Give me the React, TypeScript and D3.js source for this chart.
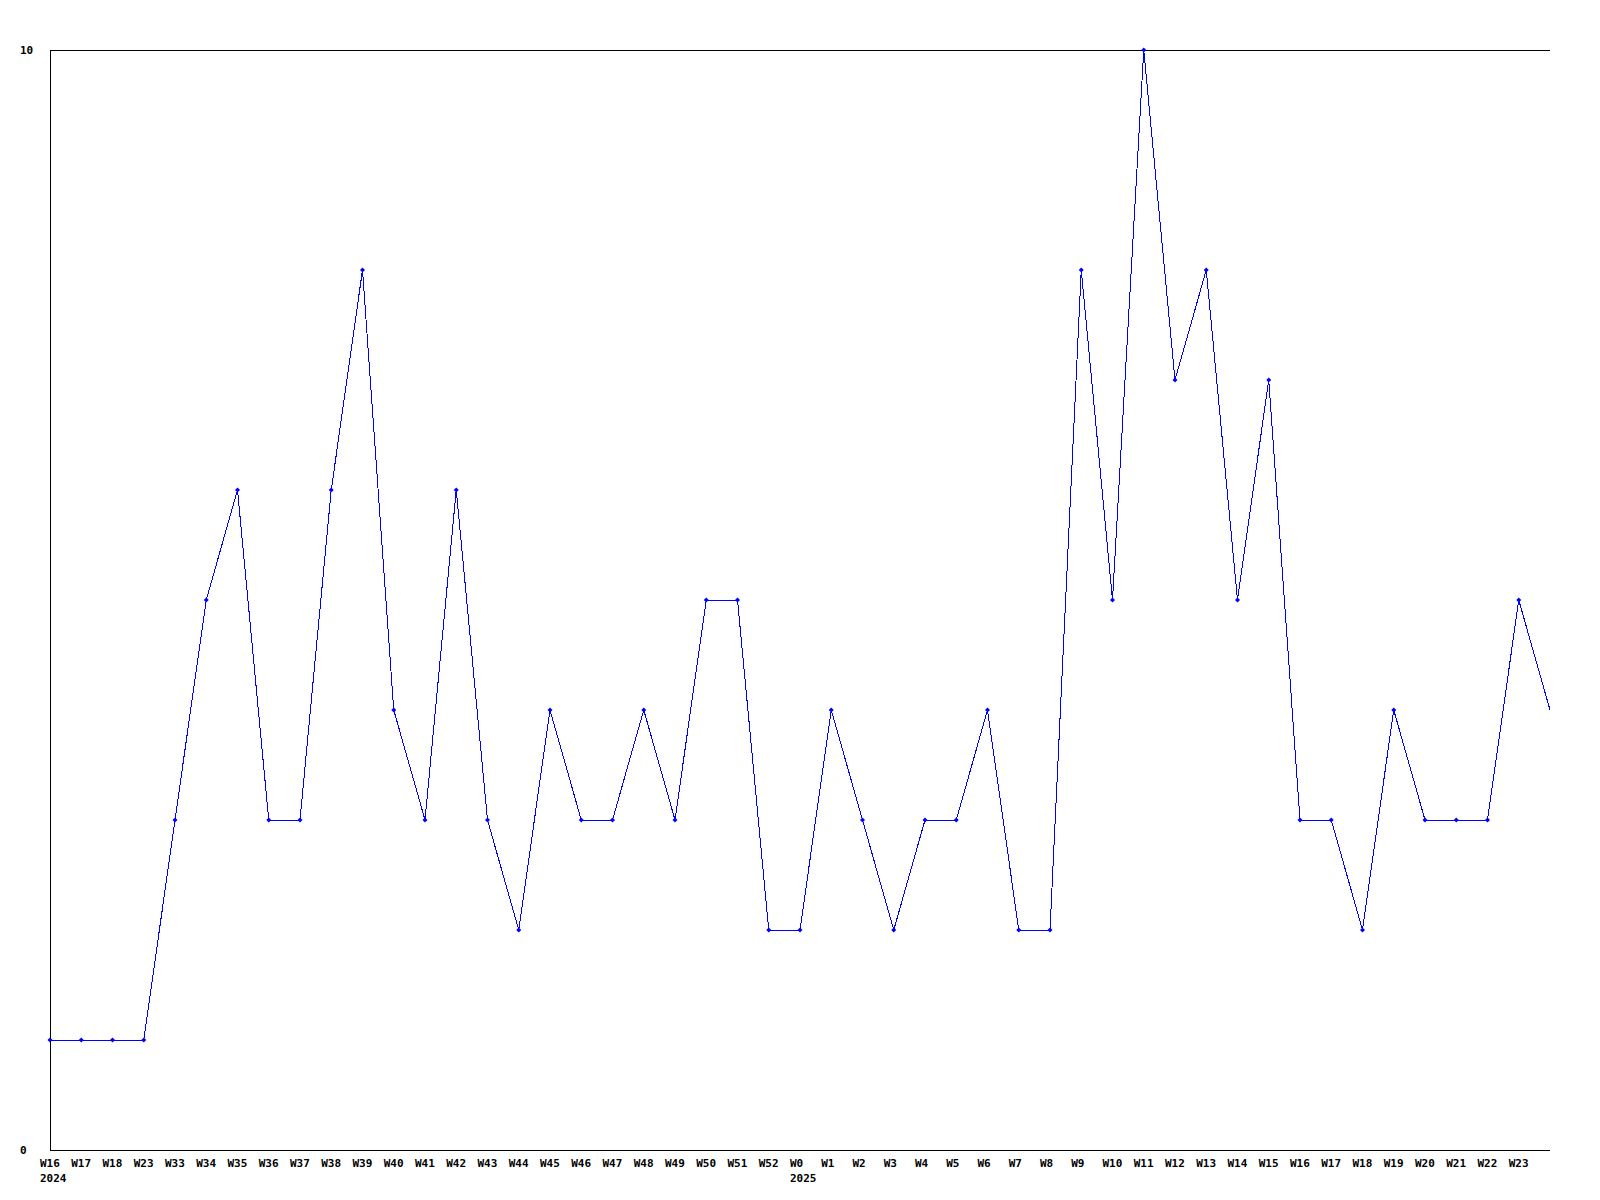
import React from "react";
import * as d3 from "d3";

const weeks = [
  "W16", "W17", "W18", "W23", "W33", "W34", "W35", "W36", "W37", "W38", "W39", "W40",
  "W41", "W42", "W43", "W44", "W45", "W46", "W47", "W48", "W49", "W50", "W51", "W52",
  "W0", "W1", "W2", "W3", "W4", "W5", "W6", "W7", "W8", "W9", "W10", "W11", "W12",
  "W13", "W14", "W15", "W16", "W17", "W18", "W19", "W20", "W21", "W22", "W23", ""
];
const values = [
  1, 1, 1, 1, 3, 5, 6, 3, 3, 6, 8, 4,
  3, 6, 3, 2, 4, 3, 3, 4, 3, 5, 5, 2,
  2, 4, 3, 2, 3, 3, 4, 2, 2, 8, 5, 10, 7,
  8, 5, 7, 3, 3, 2, 4, 3, 3, 3, 5, 4
];
const yearLabels = [
  { index: 0, label: "2024" },
  { index: 24, label: "2025" },
];
const yTicks = [0, 10];

export default function App() {
  const W = 1600, H = 1200;
  const left = 50, right = 1550, top = 50, bottom = 1150;
  const x = d3.scaleLinear().domain([0, values.length - 1]).range([left, right]);
  const y = d3.scaleLinear().domain([0, 10]).range([bottom, top]);
  const line = d3.line<number>().x((_, i) => x(i)).y((d) => y(d));
  const font = "'DejaVu Sans Mono', monospace";
  return (
    <svg width={W} height={H} style={{ position: "absolute", left: 0, top: 0, background: "#fff" }}>
      <rect x={0} y={0} width={W} height={H} fill="#fff" />
      <g shapeRendering="crispEdges" stroke="#000" strokeWidth={1}>
        <line x1={left + 0.5} y1={top} x2={left + 0.5} y2={bottom + 0.5} />
        <line x1={left} y1={top + 0.5} x2={right} y2={top + 0.5} />
        <line x1={left} y1={bottom + 0.5} x2={right} y2={bottom + 0.5} />
      </g>
      {yTicks.map((t) => (
        <text key={t} x={20} y={y(t) + 4} fontFamily={font} fontWeight="bold" fontSize={11} fill="#000">
          {t}
        </text>
      ))}
      {weeks.map((w, i) =>
        w ? (
          <text key={i} x={x(i) - 10} y={1167} fontFamily={font} fontWeight="bold" fontSize={11} fill="#000">
            {w}
          </text>
        ) : null
      )}
      {yearLabels.map((yl) => (
        <text key={yl.label} x={x(yl.index) - 10} y={1182} fontFamily={font} fontWeight="bold" fontSize={11} fill="#000">
          {yl.label}
        </text>
      ))}
      <path d={line(values) || ""} fill="none" stroke="#0000ff" strokeWidth={1} shapeRendering="crispEdges" />
      {values.slice(0, values.length - 1).map((v, i) => {
        const cx = x(i), cy = y(v);
        return (
          <path
            key={i}
            d={`M${cx},${cy - 2.5}L${cx + 2.5},${cy}L${cx},${cy + 2.5}L${cx - 2.5},${cy}Z`}
            fill="#0000ff"
          />
        );
      })}
    </svg>
  );
}
